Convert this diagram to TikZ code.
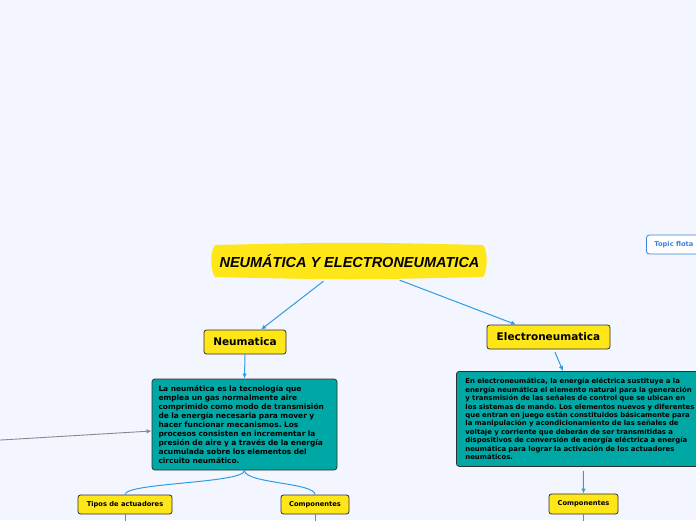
\documentclass[tikz,border=0pt]{standalone}
\usepackage{fontspec}
\setmainfont{DejaVu Sans}
\newfontfamily\headfont{Liberation Sans}
\usetikzlibrary{arrows.meta}
\frenchspacing
\definecolor{canvas}{HTML}{F3F6FE}
\definecolor{sun}{HTML}{FFE619}
\definecolor{lagoon}{HTML}{00A8A5}
\definecolor{ink}{HTML}{2F2F2F}
\definecolor{wire}{HTML}{2F9BE5}
\definecolor{flowblue}{HTML}{3B82E0}
\definecolor{stray}{HTML}{8A8A8A}

\begin{document}
\begin{tikzpicture}[x=1pt,y=-1pt,>={Latex[length=5pt,width=4.5pt]},
  topic/.style={draw=ink,fill=sun,rounded corners=2.5pt,line width=0.8pt,inner sep=0pt,
    font=\bfseries\fontsize{10.5}{12}\selectfont},
  subtopic/.style={topic,font=\bfseries\fontsize{6.7}{8}\selectfont},
  note/.style={draw=ink,fill=lagoon,rounded corners=3pt,line width=0.8pt,inner sep=0pt,align=left},
  link/.style={wire,line width=1pt}]
\useasboundingbox (0,0) rectangle (696,520);
\clip (0,0) rectangle (696,520);
\fill[canvas] (0,0) rectangle (696,520);

% central topic
\fill[sun] (215,245) .. controls (349,242) .. (483,245)
  .. controls (488,251) and (488,271) .. (483,277)
  .. controls (349,280) .. (215,277)
  .. controls (210,271) and (210,251) .. (215,245) -- cycle;
\node[minimum width=274pt,minimum height=35pt,inner sep=0pt,
  font=\headfont\bfseries\itshape\fontsize{14.5}{16}\selectfont] (title) at (349.5,261) {NEUMÁTICA Y ELECTRONEUMATICA};

\node[topic,minimum width=82pt,minimum height=24pt] (neum) at (245,342) {Neumatica};
\node[topic,minimum width=123pt,minimum height=24pt] (elec) at (548.5,337) {Electroneumatica};

\node[note,minimum width=185pt,minimum height=91pt,text width=172pt,
  font=\bfseries\fontsize{7.45}{9}\selectfont] (neumnote) at (244.5,424.5)
  {La neumática es la tecnología que\\
   emplea un gas normalmente aire\\
   comprimido como modo de transmisión\\
   de la energía necesaria para mover y\\
   hacer funcionar mecanismos. Los\\
   procesos consisten en incrementar la\\
   presión de aire y a través de la energía\\
   acumulada sobre los elementos del\\
   circuito neumático.};

\node[note,anchor=north west,minimum width=254pt,minimum height=95pt,text width=236pt,
  font=\bfseries\fontsize{6.9}{8.4}\selectfont] (elecnote) at (456,371)
  {En electroneumática, la energía eléctrica sustituye a la\\
   energía neumática el elemento natural para la generación\\
   y transmisión de las señales de control que se ubican en\\
   los sistemas de mando. Los elementos nuevos y diferentes\\
   que entran en juego están constituidos básicamente para\\
   la manipulación y acondicionamiento de las señales de\\
   voltaje y corriente que deberán de ser transmitidas a\\
   dispositivos de conversión de energía eléctrica a energía\\
   neumática para lograr la activación de los actuadores\\
   neumáticos.};

\node[subtopic,minimum width=94pt,minimum height=19pt] (tipos) at (125,504.5) {Tipos de actuadores};
\node[subtopic,minimum width=68pt,minimum height=19pt] (comp) at (315,504.5) {Componentes};
\node[subtopic,minimum width=69pt,minimum height=20pt] (ecomp) at (583.5,504) {Componentes};

\node[draw=flowblue,fill=white,rounded corners=3pt,line width=0.8pt,anchor=west,
  minimum height=19pt,inner xsep=8pt,inner ysep=0pt,text=flowblue,
  font=\bfseries\fontsize{6.7}{8}\selectfont] (floating) at (646,244.5) {Topic flota};

\coordinate (offleft) at (-4,440.3);
\coordinate (tiposlow) at (125,530);
\coordinate (complow) at (315,530);
\coordinate (ecomplow) at (583.5,530);

% links
\draw[link,->,shorten <=4pt] (title) -- (neum);
\draw[link,->,shorten <=4pt] (title) -- (elec);
\draw[link,->] (neum.south) -- (neumnote.north);
\draw[link,->,shorten <=3pt] (elec) -- (elecnote);
\draw[link] (neumnote.south) .. controls +(0,13) and +(0,-12) .. (tipos.north);
\draw[link] (neumnote.south) .. controls +(0,13) and +(0,-12) .. (comp.north);
\draw[link,->,shorten <=4pt] (elecnote.south) -- (ecomp.north);
\draw[link] (tipos.south) -- (tiposlow);
\draw[link] (comp.south) -- (complow);
\draw[link] (ecomp.south) -- (ecomplow);
\draw[stray,line width=0.9pt,->] (offleft) -- (neumnote.184);
\end{tikzpicture}
\end{document}
